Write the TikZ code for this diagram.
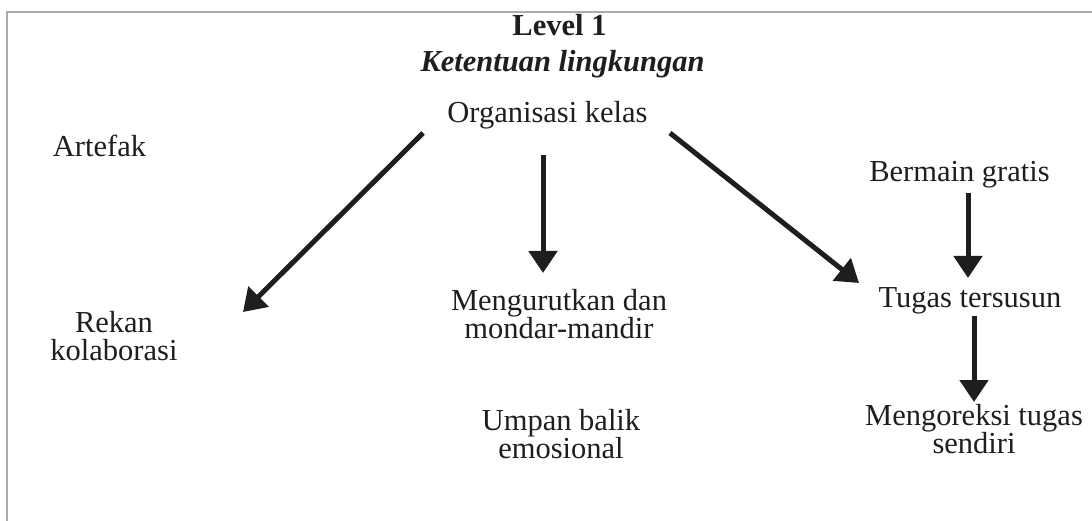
\documentclass[tikz,border=0pt]{standalone}
\usepackage{fontspec}
\setmainfont{Liberation Serif}
\usetikzlibrary{arrows.meta,calc}
\definecolor{ink}{HTML}{1E1E1E}
\definecolor{framegray}{HTML}{ABABAB}
\begin{document}
\begin{tikzpicture}[x=1pt,y=-1pt,
  lbl/.style={inner sep=0pt,anchor=base,align=center,text=ink,
    font=\fontsize{30.5}{28}\selectfont},
  arr/.style={draw=ink,line width=5pt,
    -{Triangle[length=22pt,width=28pt]}}]
\useasboundingbox (0,0) rectangle (1092,521);
% open frame: only top and left edges
\draw[framegray,line width=2pt] (1092,12) -- (7,12) -- (7,521);

% headings
\node[lbl,font=\fontsize{30.5}{28}\selectfont\bfseries] (lvl) at (559.5,36) {Level 1};
\node[lbl,font=\fontsize{30.5}{28}\selectfont\bfseries\itshape] (ket) at (562.5,72) {Ketentuan lingkungan};

% nodes (two-line nodes are placed by the baseline of their last line)
\node[lbl] (org) at (547.5,123) {Organisasi kelas};
\node[lbl] (art) at (99.5,157) {Artefak};
\node[lbl] (berm) at (959.5,182) {Bermain gratis};
\node[lbl] (rekan) at (114,360) {Rekan\\kolaborasi};
\node[lbl] (meng) at (559,338) {Mengurutkan dan\\mondar-mandir};
\node[lbl] (umpan) at (561,458) {Umpan balik\\emosional};
\node[lbl] (tugas) at (970,307) {Tugas tersusun};
\node[lbl] (kor) at (974,453) {Mengoreksi tugas\\sendiri};

% connectors
\draw[arr] ($(org.base)+(-124.5,10)$) -- ($(rekan.base)+(129,-48)$);
\draw[arr] ($(org.base)+(-4.5,32)$) -- ($(meng.base)+(-16,-65)$);
\draw[arr] ($(org.base)+(122.5,10)$) -- ($(tugas.base)+(-111,-24)$);
\draw[arr] ($(berm.base)+(8.5,11)$) -- ($(tugas.base)+(-2,-29)$);
\draw[arr] ($(tugas.base)+(4,9)$) -- ($(kor.base)+(0,-51)$);
\end{tikzpicture}
\end{document}
